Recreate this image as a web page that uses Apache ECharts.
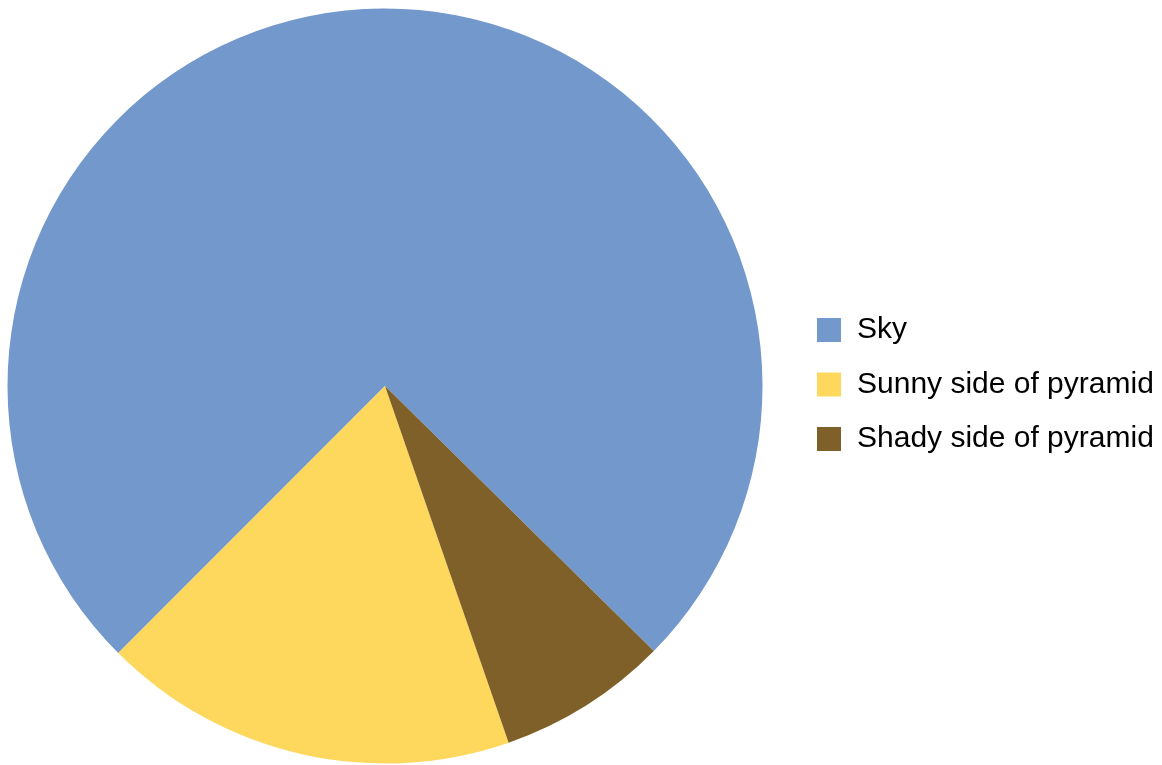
<!DOCTYPE html>
<html>
<head>
<meta charset="utf-8">
<script src="https://cdn.jsdelivr.net/npm/echarts@6/dist/echarts.min.js"></script>
<style>
  html, body { margin: 0; padding: 0; background: #fff; }
  #chart { width: 1162px; height: 765px; }
</style>
</head>
<body>
<div id="chart"></div>
<script>
const categories = ['Sky', 'Sunny side of pyramid', 'Shady side of pyramid'];
const values = [74.9, 17.8, 7.3];
const colors = ['#7398CC', '#FDD85D', '#7F6028'];

const chart = echarts.init(document.getElementById('chart'), null, { renderer: 'canvas' });
chart.setOption({
  animation: false,
  backgroundColor: '#ffffff',
  color: colors,
  legend: {
    orient: 'vertical',
    left: 812,
    top: 310,
    icon: 'rect',
    itemWidth: 24,
    itemHeight: 24,
    itemGap: 24.5,
    data: categories,
    textStyle: {
      fontFamily: 'Liberation Sans, Arial, Helvetica, sans-serif',
      fontSize: 30,
      color: '#000',
      padding: [0, 0, 0, 11]
    }
  },
  series: [{
    type: 'pie',
    center: [385, 386],
    radius: 377.5,
    startAngle: -44.6,
    clockwise: false,
    label: { show: false },
    labelLine: { show: false },
    itemStyle: { borderWidth: 0 },
    emphasis: { disabled: true },
    data: categories.map((c, i) => ({ name: c, value: values[i] }))
  }]
});
</script>
</body>
</html>
